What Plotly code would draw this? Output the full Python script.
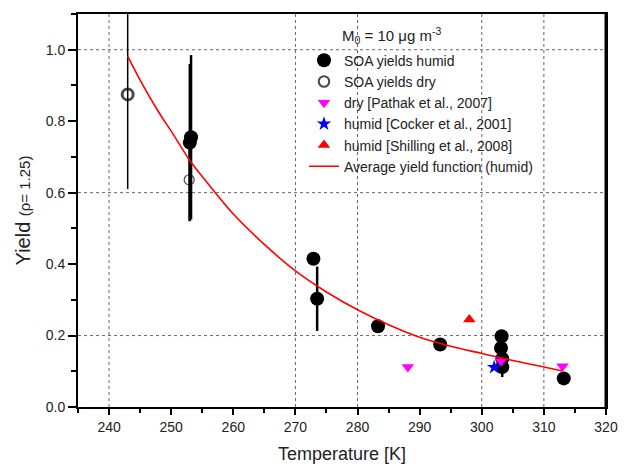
import plotly.graph_objects as go

# ---- data ----
humid_T = [253.2, 253.0, 272.9, 273.5, 283.3, 293.3, 303.2, 303.1, 303.3, 303.3, 313.2]
humid_Y = [0.755, 0.740, 0.415, 0.303, 0.226, 0.175, 0.198, 0.165, 0.135, 0.112, 0.080]
humid_err = [0.23, 0.22, 0.0, 0.09, 0.0, 0.0, 0.0, 0.0, 0.0, 0.028, 0.0]

dry_T = [243.0, 252.9]
dry_Y = [0.875, 0.636]
dry_err = [0.265, 0.115]

pathak_T = [288.1, 303.1, 313.0]
pathak_Y = [0.112, 0.128, 0.114]

cocker_T = [302.0]
cocker_Y = [0.111]

shilling_T = [298.0]
shilling_Y = [0.245]

fit_T = [243, 245, 248, 250, 253, 255, 260, 265, 270, 275, 280, 285, 290, 295, 300, 305, 310, 313]
fit_Y = [0.982, 0.915, 0.825, 0.772, 0.690, 0.645, 0.540, 0.455, 0.381, 0.322, 0.272, 0.230,
         0.195, 0.170, 0.150, 0.130, 0.112, 0.101]

x_ticks = [240, 250, 260, 270, 280, 290, 300, 310, 320]
y_ticks = [0.0, 0.2, 0.4, 0.6, 0.8, 1.0]
grid_x = [240, 270, 280, 300, 310]
grid_y = [0.2, 0.6, 1.0]

FONT = "Liberation Sans, Arial, sans-serif"
TXT = "#222222"

fig = go.Figure()

fig.add_trace(go.Scatter(
    x=humid_T, y=humid_Y, mode="markers", name="SOA yields humid",
    marker=dict(symbol="circle", size=14, color="black"),
    error_y=dict(type="data", array=humid_err, visible=True, color="black", thickness=2.5, width=0),
))
fig.add_trace(go.Scatter(
    x=dry_T, y=dry_Y, mode="markers", name="SOA yields dry",
    marker=dict(symbol="circle-open", size=[11, 10], color="black",
                line=dict(width=[3, 1.2], color="black")),
    error_y=dict(type="data", array=dry_err, visible=True, color="black", thickness=1.5, width=0),
))
fig.add_trace(go.Scatter(
    x=pathak_T, y=pathak_Y, mode="markers", name="dry [Pathak et al., 2007]",
    marker=dict(symbol="triangle-down", size=11, color="#ff00ff"),
))
fig.add_trace(go.Scatter(
    x=cocker_T, y=cocker_Y, mode="markers", name="humid [Cocker et al., 2001]",
    marker=dict(symbol="star", size=11, color="#0000ff"),
))
fig.add_trace(go.Scatter(
    x=shilling_T, y=shilling_Y, mode="markers", name="humid [Shilling et al., 2008]",
    marker=dict(symbol="triangle-up", size=11, color="#ff0000"),
))
fig.add_trace(go.Scatter(
    x=fit_T, y=fit_Y, mode="lines", name="Average yield function (humid)",
    line=dict(color="#ff0000", width=1.6, shape="spline"),
))

shapes = []
for gx in grid_x:
    shapes.append(dict(type="line", xref="x", yref="paper", x0=gx, x1=gx, y0=0, y1=1,
                       line=dict(color="#666", width=1, dash="dot"), layer="below"))
for gy in grid_y:
    shapes.append(dict(type="line", xref="paper", yref="y", x0=0, x1=1, y0=gy, y1=gy,
                       line=dict(color="#666", width=1, dash="dot"), layer="below"))
shapes.append(dict(type="line", xref="paper", yref="paper", x0=1, x1=1, y0=0, y1=1,
                   line=dict(color="black", width=3)))

fig.update_layout(
    width=630, height=473,
    margin=dict(l=78, r=14, t=14, b=62),
    paper_bgcolor="white", plot_bgcolor="white",
    font=dict(family=FONT, color=TXT, size=14),
    shapes=shapes,
    showlegend=True,
    legend=dict(x=0.428, y=0.922, xanchor="left", yanchor="top",
                bgcolor="rgba(0,0,0,0)", font=dict(size=14, color=TXT),
                tracegroupgap=0, itemwidth=30),
    annotations=[dict(text="M<sub>0</sub> = 10 μg m<sup>-3</sup>", xref="paper", yref="paper",
                      x=0.497, y=0.945, xanchor="left", yanchor="middle", showarrow=False,
                      font=dict(size=15, color=TXT))],
)

fig.update_xaxes(
    range=[235, 320], tickvals=x_ticks, showgrid=False, zeroline=False,
    showline=True, linecolor="black", linewidth=2, mirror=True,
    ticks="outside", ticklen=6, tickwidth=2, tickcolor="black",
    minor=dict(dtick=5, ticks="outside", ticklen=4, tickwidth=1.5, tickcolor="black"),
    tickfont=dict(size=14, color=TXT),
    title=dict(text="Temperature [K]", font=dict(size=18, color=TXT), standoff=14),
)
fig.update_yaxes(
    range=[0, 1.1], tickvals=y_ticks, tickformat=".1f", showgrid=False, zeroline=False,
    showline=True, linecolor="black", linewidth=2, mirror=True,
    ticks="outside", ticklen=8, tickwidth=1.5, tickcolor="black",
    minor=dict(dtick=0.1, ticks="outside", ticklen=5, tickwidth=1.5, tickcolor="black"),
    tickfont=dict(size=14, color=TXT),
    title=dict(text="Yield <span style='font-size:15px'>(ρ= 1.25)</span>",
               font=dict(size=20, color=TXT), standoff=10),
)

fig.write_html("out.html")
